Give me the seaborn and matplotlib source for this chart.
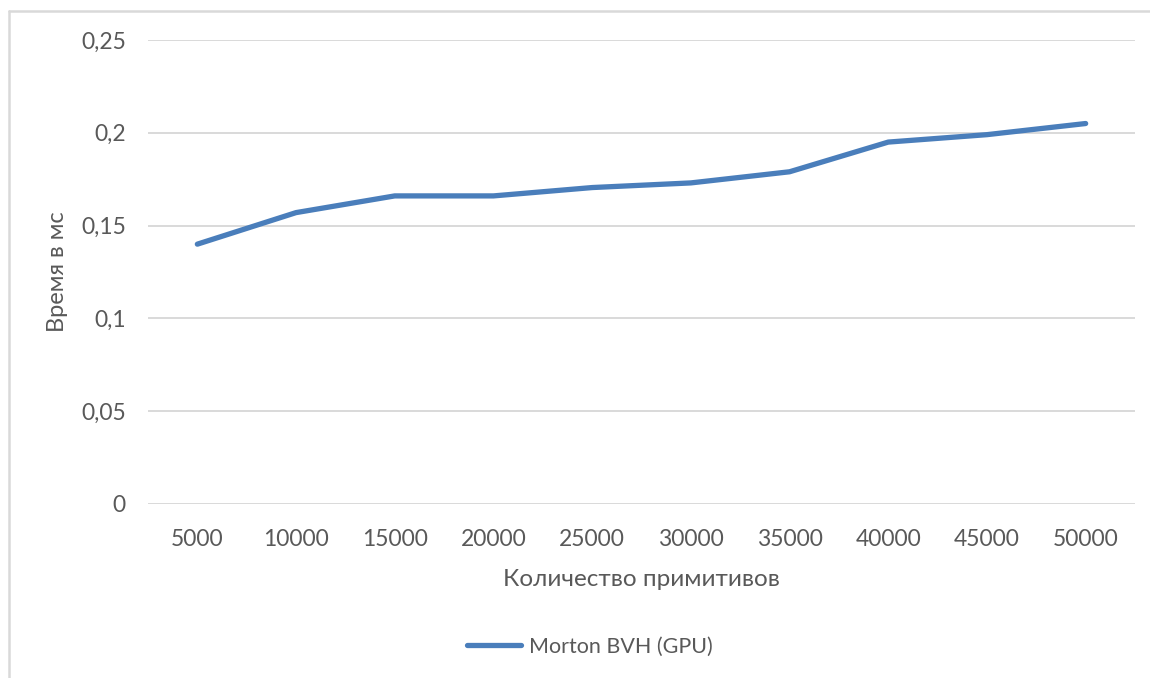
import matplotlib
matplotlib.use("Agg")
import matplotlib.pyplot as plt
from matplotlib.lines import Line2D
import seaborn as sns
import pandas as pd

primitives = ["5000", "10000", "15000", "20000", "25000",
              "30000", "35000", "40000", "45000", "50000"]
time_ms = [0.140, 0.157, 0.166, 0.166, 0.1705,
           0.173, 0.179, 0.195, 0.199, 0.205]
series_name = "Morton BVH (GPU)"
y_ticks = [0, 0.05, 0.1, 0.15, 0.2, 0.25]
y_tick_labels = ["0", "0,05", "0,1", "0,15", "0,2", "0,25"]

sns.set_theme(style="white")
plt.rcParams["font.family"] = ["Lato", "DejaVu Sans"]

W, H = 1150, 678
fig = plt.figure(figsize=(W / 100, H / 100), dpi=100)
fig.patch.set_facecolor("white")

# chart frame (top and left edges visible)
fig.add_artist(Line2D([9 / W, 9 / W], [0, 1 - 11 / H], transform=fig.transFigure,
                      color="#d9d9d9", lw=1.8))
fig.add_artist(Line2D([9 / W, 1], [1 - 11 / H, 1 - 11 / H], transform=fig.transFigure,
                      color="#d9d9d9", lw=1.8))

left, right, top, bottom = 148, 1135, 40, 504
ax = fig.add_axes([left / W, 1 - bottom / H, (right - left) / W, (bottom - top) / H])

df = pd.DataFrame({"primitives": primitives, "time": time_ms})
blue = "#4a7ebb"
sns.lineplot(data=df, x="primitives", y="time", ax=ax, color=blue, lw=3.8,
             solid_capstyle="round", solid_joinstyle="round", clip_on=False)

ax.set_xlim(-0.5, len(primitives) - 0.5)
ax.set_ylim(0, 0.25)
ax.set_yticks(y_ticks)
ax.set_yticklabels(y_tick_labels)
ax.yaxis.grid(True, color="#d9d9d9", lw=1.4)
ax.set_axisbelow(True)
for s in ax.spines.values():
    s.set_visible(False)

text_color = "#595959"
ax.tick_params(axis="both", length=0, labelsize=16.5, colors=text_color)
ax.tick_params(axis="y", pad=16)
ax.tick_params(axis="x", pad=18)

ax.set_xlabel("Количество примитивов", fontsize=17.5, color=text_color, labelpad=14)
ax.set_ylabel("Время в мс", fontsize=17, color=text_color, labelpad=9)

handle = Line2D([], [], color=blue, lw=3.8, solid_capstyle="round")
fig.legend([handle], [series_name], loc="center", bbox_to_anchor=(590 / W, 1 - 647 / H),
           frameon=False, fontsize=15.5, labelcolor=text_color, handlelength=2.5,
           handletextpad=0.4)

fig.savefig("out.png", dpi=100, facecolor="white")
